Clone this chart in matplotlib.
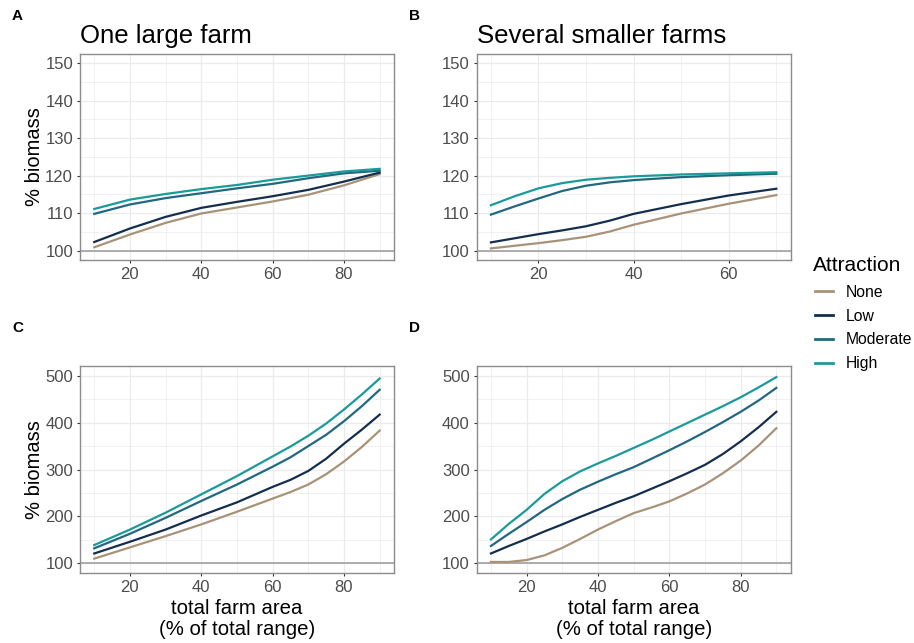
import numpy as np
import matplotlib.pyplot as plt
from matplotlib.lines import Line2D
from matplotlib.ticker import MultipleLocator

plt.rcParams['font.family'] = ['Liberation Sans', 'DejaVu Sans']

levels = ["None", "Low", "Moderate", "High"]
colors = ["#A89378", "#142F4E", "#22687F", "#1B9A9A"]

# A: one large farm, biomass (%) vs total farm area
a_x = [10, 20, 30, 40, 50, 60, 70, 80, 90]
a_none = [100.9, 104.3, 107.4, 109.9, 111.5, 113.1, 114.9, 117.4, 120.4]
a_low = [102.3, 105.9, 109.0, 111.4, 113.0, 114.5, 116.2, 118.4, 120.8]
a_mod = [109.8, 112.3, 114.0, 115.3, 116.6, 117.8, 119.3, 120.6, 121.3]
a_high = [111.1, 113.6, 115.1, 116.4, 117.5, 118.9, 120.0, 121.1, 121.8]

# B: several smaller farms
b_x_top = [10, 15, 20, 25, 30, 35, 40, 50, 60, 70]
b_high = [112.1, 114.5, 116.6, 118.0, 118.9, 119.4, 119.8, 120.3, 120.6, 120.9]
b_mod = [109.6, 111.8, 113.9, 115.9, 117.3, 118.2, 118.8, 119.6, 120.1, 120.5]
b_x_low = [10, 20, 25, 30, 35, 40, 45, 50, 60, 70]
b_low = [102.2, 104.4, 105.4, 106.5, 108.0, 109.8, 111.1, 112.4, 114.7, 116.5]
b_none = [100.6, 102.0, 102.8, 103.7, 105.1, 106.9, 108.4, 109.9, 112.5, 114.8]

# C: one large farm, second scenario
c_x = [10, 20, 30, 40, 50, 60, 65, 70, 75, 80, 85, 90]
c_none = [110, 134, 158, 183, 210, 238, 252, 268, 290, 317, 348, 383]
c_low = [121, 146, 172, 202, 230, 263, 278, 297, 323, 355, 385, 417]
c_mod = [132, 163, 197, 233, 268, 306, 326, 350, 374, 403, 435, 470]
c_high = [139, 172, 208, 247, 286, 328, 349, 372, 398, 428, 460, 494]

# D: several smaller farms, second scenario
d_x = [10, 15, 20, 25, 30, 35, 40, 45, 50, 55, 60, 65, 70, 75, 80, 85, 90]
d_none = [103, 103, 107, 117, 133, 152, 172, 190, 207, 219, 232, 249, 268, 292, 319, 351, 388]
d_low = [121, 137, 152, 168, 183, 199, 214, 229, 243, 259, 275, 292, 310, 333, 360, 390, 423]
d_mod = [137, 163, 188, 214, 237, 257, 274, 290, 305, 323, 341, 360, 380, 401, 423, 447, 474]
d_high = [151, 184, 214, 248, 275, 296, 313, 329, 346, 363, 381, 399, 417, 435, 454, 475, 497]

panels = [
    ("A", "One large farm", a_x, [a_none, a_low, a_mod, a_high], (97.5, 152.5), 10, (6, 94)),
    ("B", "Several smaller farms", None, None, (97.5, 152.5), 10, (7, 73)),
    ("C", None, c_x, [c_none, c_low, c_mod, c_high], (80, 520), 100, (6, 94)),
    ("D", None, d_x, [d_none, d_low, d_mod, d_high], (80, 520), 100, (6, 94)),
]
b_series = [(b_x_low, b_none), (b_x_low, b_low), (b_x_top, b_mod), (b_x_top, b_high)]

W, H = 914, 643
fig = plt.figure(figsize=(W / 100, H / 100), dpi=100)
boxes = [(0.0875, 0.5956), (0.5215, 0.5956), (0.0875, 0.1093), (0.5215, 0.1093)]
# panel letter positions (pixels from top-left)
tag_pos = {"A": (12, 16), "B": (409, 16), "C": (12, 328), "D": (409, 328)}

for (tag, title, xs, ys, ylim, ystep, xlim), (left, bottom) in zip(panels, boxes):
    ax = fig.add_axes([left, bottom, 0.3435, 0.321])
    ax.set_xlim(*xlim)
    ax.set_ylim(*ylim)
    ax.xaxis.set_major_locator(MultipleLocator(20))
    ax.xaxis.set_minor_locator(MultipleLocator(10))
    ax.yaxis.set_major_locator(MultipleLocator(ystep))
    ax.yaxis.set_minor_locator(MultipleLocator(ystep / 2))
    ax.grid(which='major', color='#EBEBEB', lw=0.9)
    ax.grid(which='minor', color='#EBEBEB', lw=0.5)
    ax.set_axisbelow(True)
    for s in ax.spines.values():
        s.set_color('#8C8C8C')
        s.set_linewidth(1.0)
    ax.tick_params(which='major', length=2.5, width=0.8, color='#333333',
                   labelsize=12, labelcolor='#4D4D4D', pad=2.5)
    ax.tick_params(which='minor', length=0)
    ax.axhline(100, color='#A6A6A6', lw=1.3, zorder=1)

    if tag == "B":
        series = b_series
    else:
        series = [(xs, y) for y in ys]
    for (sx, sy), c in zip(series, colors):
        ax.plot(sx, sy, color=c, lw=1.6, zorder=2)

    if title:
        ax.annotate(title, xy=(0, 1), xycoords='axes fraction', xytext=(0, 8),
                    textcoords='offset points', fontsize=18.5, ha='left', va='baseline')
    tx, ty = tag_pos[tag]
    fig.text(tx / W, 1 - ty / H, tag, fontsize=11, fontweight='bold',
             ha='left', va='center')

    if tag in "AC":
        ax.set_ylabel("% biomass", fontsize=14.5)
        ax.yaxis.set_label_coords(-0.146, 0.5)
        ax.yaxis.label.set_va('center')
    if tag in "CD":
        ax.set_xlabel("total farm area\n(% of total range)", fontsize=14.7, linespacing=1.15)
        ax.xaxis.set_label_coords(0.5, -0.125)
        ax.xaxis.label.set_va('top')

fig.text(813 / W, 1 - 271 / H, "Attraction", fontsize=15, ha='left', va='baseline')
handles = [Line2D([], [], color=c, lw=2) for c in colors]
fig.legend(handles, levels, loc='center left',
           bbox_to_anchor=(815 / W, 1 - 328 / H), frameon=False, fontsize=11.3,
           handlelength=1.15, handletextpad=0.83,
           labelspacing=0.56, borderaxespad=0, borderpad=0)

fig.savefig("out.png", dpi=100)
